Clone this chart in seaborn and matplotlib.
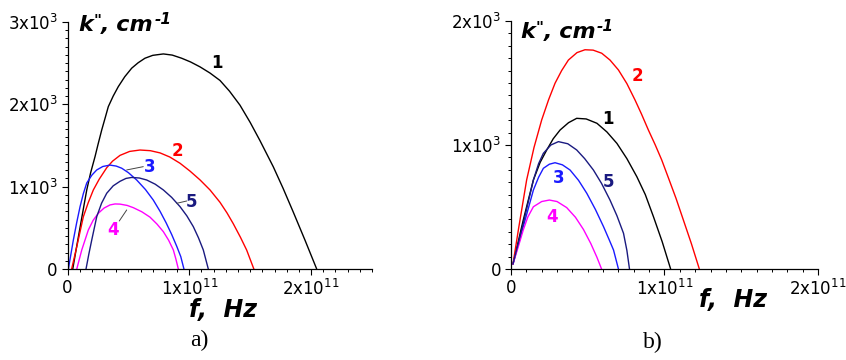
import seaborn as sns, matplotlib.pyplot as plt
from matplotlib.ticker import MultipleLocator

# frequency in units of 1e11 Hz, k'' in cm^-1
A_F1 = [0.043, 0.07, 0.10, 0.13, 0.158, 0.19, 0.226, 0.25, 0.281, 0.31, 0.335, 0.375, 0.417, 0.47, 0.527, 0.58, 0.636, 0.70, 0.787, 0.86, 0.937, 1.01, 1.088, 1.17, 1.252, 1.33, 1.416, 1.50, 1.58, 1.69, 1.77, 1.854, 1.95, 2.046]
A_K1 = [0, 230, 480, 730, 960, 1170, 1365, 1510, 1689, 1840, 1972, 2100, 2215, 2335, 2439, 2505, 2560, 2595, 2612, 2598, 2560, 2515, 2455, 2380, 2290, 2160, 1990, 1780, 1560, 1240, 980, 690, 350, 0]
A_F2 = [0.034, 0.076, 0.13, 0.17, 0.212, 0.26, 0.322, 0.37, 0.431, 0.51, 0.595, 0.68, 0.76, 0.84, 0.924, 1.005, 1.088, 1.17, 1.252, 1.31, 1.361, 1.42, 1.471, 1.53]
A_K2 = [0, 271, 635, 805, 960, 1090, 1230, 1310, 1380, 1428, 1445, 1437, 1410, 1360, 1284, 1190, 1082, 960, 810, 680, 550, 385, 230, 0]
A_F3 = [0.007, 0.048, 0.075, 0.103, 0.13, 0.158, 0.20, 0.24, 0.29, 0.349, 0.40, 0.445, 0.50, 0.568, 0.64, 0.704, 0.76, 0.81, 0.855, 0.897, 0.93, 0.956]
A_K3 = [0, 352, 560, 757, 915, 1045, 1140, 1203, 1245, 1262, 1250, 1224, 1170, 1081, 965, 838, 700, 560, 420, 275, 150, 0]
A_F4 = [0.076, 0.117, 0.171, 0.21, 0.253, 0.30, 0.349, 0.39, 0.431, 0.49, 0.54, 0.61, 0.677, 0.735, 0.787, 0.83, 0.869, 0.89, 0.91]
A_K4 = [0, 231, 474, 590, 677, 740, 778, 790, 788, 772, 745, 695, 630, 545, 453, 350, 231, 120, 0]
A_F5 = [0.152, 0.175, 0.199, 0.24, 0.28, 0.322, 0.375, 0.431, 0.48, 0.527, 0.59, 0.65, 0.72, 0.787, 0.855, 0.924, 0.98, 1.033, 1.075, 1.115, 1.156]
A_K5 = [0, 180, 352, 636, 800, 920, 1010, 1065, 1100, 1112, 1105, 1081, 1030, 960, 870, 757, 645, 514, 380, 231, 0]

B_F1 = [0.013, 0.08, 0.146, 0.19, 0.233, 0.275, 0.32, 0.375, 0.428, 0.49, 0.56, 0.625, 0.69, 0.755, 0.82, 0.875, 0.928, 0.985, 1.04]
B_K1 = [40, 395, 718, 860, 960, 1050, 1121, 1180, 1215, 1210, 1175, 1105, 1013, 890, 744, 600, 422, 220, 0]
B_F2 = [0.013, 0.05, 0.102, 0.15, 0.2, 0.245, 0.287, 0.33, 0.374, 0.43, 0.482, 0.535, 0.591, 0.645, 0.70, 0.755, 0.808, 0.85, 0.895, 0.94, 0.982, 1.03, 1.075, 1.123, 1.175, 1.227]
B_K2 = [40, 330, 718, 980, 1202, 1365, 1498, 1600, 1685, 1745, 1768, 1765, 1740, 1685, 1605, 1495, 1363, 1250, 1121, 1000, 879, 720, 570, 395, 205, 0]
B_F3 = [0.013, 0.08, 0.146, 0.18, 0.211, 0.25, 0.287, 0.335, 0.385, 0.44, 0.494, 0.55, 0.603, 0.64, 0.668, 0.70]
B_K3 = [40, 341, 637, 740, 812, 845, 857, 840, 798, 715, 610, 480, 341, 235, 153, 0]
B_F4 = [0.013, 0.05, 0.08, 0.11, 0.146, 0.20, 0.25, 0.30, 0.363, 0.42, 0.472, 0.52, 0.56, 0.59]
B_K4 = [40, 190, 315, 420, 502, 544, 556, 544, 495, 417, 319, 205, 94, 0]
B_F5 = [0.013, 0.08, 0.146, 0.18, 0.211, 0.26, 0.309, 0.37, 0.428, 0.48, 0.537, 0.59, 0.645, 0.69, 0.733, 0.755, 0.772]
B_K5 = [40, 368, 718, 850, 933, 1000, 1027, 1010, 960, 890, 798, 690, 556, 430, 288, 150, 0]

COLORS = {"1": "black", "2": "#ff0000", "3": "#1a1aff", "4": "#ff00ff", "5": "#1a1a80"}

sns.set_style("ticks")
plt.rcParams["font.family"] = ["DejaVu Sans"]
plt.rcParams["mathtext.fontset"] = "dejavusans"
for key in ["text.color", "axes.labelcolor", "xtick.color", "ytick.color", "axes.edgecolor"]:
    plt.rcParams[key] = "black"

fig = plt.figure(figsize=(8.46, 3.6), dpi=100)
ax_a = fig.add_axes([0.0798, 0.2528, 0.3599, 0.6861])
ax_b = fig.add_axes([0.604, 0.2528, 0.3629, 0.6889])

curves_a = {"1": (A_F1, A_K1), "2": (A_F2, A_K2), "3": (A_F3, A_K3), "4": (A_F4, A_K4), "5": (A_F5, A_K5)}
curves_b = {"1": (B_F1, B_K1), "2": (B_F2, B_K2), "3": (B_F3, B_K3), "4": (B_F4, B_K4), "5": (B_F5, B_K5)}

for ax, curves in [(ax_a, curves_a), (ax_b, curves_b)]:
    for name, (f, k) in curves.items():
        sns.lineplot(x=f, y=k, ax=ax, color=COLORS[name], lw=1.0)

BI = dict(fontweight="bold", style="italic")

def y_label(ax, x, y):
    t1 = fig.text(x, y, "k", fontsize=16, va="baseline", ha="left", **BI)
    ax.annotate('"', xy=(1, 1), xycoords=t1, xytext=(0.5, 1), textcoords="offset points",
                ha="left", va="top", fontsize=11, annotation_clip=False, **BI)
    t3 = ax.annotate(", cm", xy=(1, 0), xycoords=t1, xytext=(6, 0), textcoords="offset points",
                     ha="left", va="bottom", fontsize=16, annotation_clip=False, **BI)
    ax.annotate("-1", xy=(1, 1), xycoords=t3, xytext=(0.5, 2), textcoords="offset points",
                ha="left", va="top", fontsize=11, annotation_clip=False, **BI)

def style_axes(ax, xmax, ymax, xlbl_pos, ylbl_pos):
    ax.set_xlim(0, xmax); ax.set_ylim(0, ymax)
    sns.despine(ax=ax)
    ax.xaxis.set_minor_locator(MultipleLocator(0.1))
    ax.yaxis.set_minor_locator(MultipleLocator(100))
    ax.set_xticks([0, 1, 2], labels=["0", r"1x$10^{11}$", r"2x$10^{11}$"])
    yt = list(range(0, ymax + 1, 1000))
    ax.set_yticks(yt, labels=["0"] + [rf"{v // 1000}x$10^{{3}}$" for v in yt[1:]])
    ax.tick_params(which="major", length=4, width=0.8, labelsize=12, pad=3, color="black")
    ax.tick_params(which="minor", length=2.5, width=0.7, color="black")
    for s in ax.spines.values():
        s.set_linewidth(0.9)
    y_label(ax, *ylbl_pos)
    fig.text(*xlbl_pos, "f,  Hz", fontsize=17, ha="center", va="center", **BI)

style_axes(ax_a, 2.5, 3000, (0.264, 0.138), (0.092, 0.914))
style_axes(ax_b, 2, 2000, (0.866, 0.168), (0.615, 0.894))

def lbl(ax, name, x, y):
    ax.text(x, y, name, color=COLORS[name], fontsize=12, fontweight="bold", ha="center", va="center")

lbl(ax_a, "1", 1.227, 2503)
lbl(ax_a, "2", 0.899, 1434)
lbl(ax_a, "3", 0.672, 1243)
lbl(ax_a, "5", 1.02, 818)
lbl(ax_a, "4", 0.376, 474)
for (x0, y0), (x1, y1) in [((0.486, 1203), (0.622, 1243)), ((0.897, 798), (0.979, 826)), ((0.486, 717), (0.425, 583))]:
    ax_a.annotate("", xy=(x0, y0), xytext=(x1, y1),
                  arrowprops=dict(arrowstyle="-", color="#444444", lw=0.7, shrinkA=0, shrinkB=0))

lbl(ax_b, "2", 0.825, 1556)
lbl(ax_b, "1", 0.63, 1210)
lbl(ax_b, "3", 0.313, 731)
lbl(ax_b, "5", 0.634, 704)
lbl(ax_b, "4", 0.265, 422)

fig.text(199 / 846, 1 - 340 / 360, "a)", family="Liberation Serif", fontsize=17, ha="center", va="center")
fig.text(653 / 846, 1 - 342 / 360, "b)", family="Liberation Serif", fontsize=17, ha="center", va="center")

fig.savefig("out.png", dpi=100)
